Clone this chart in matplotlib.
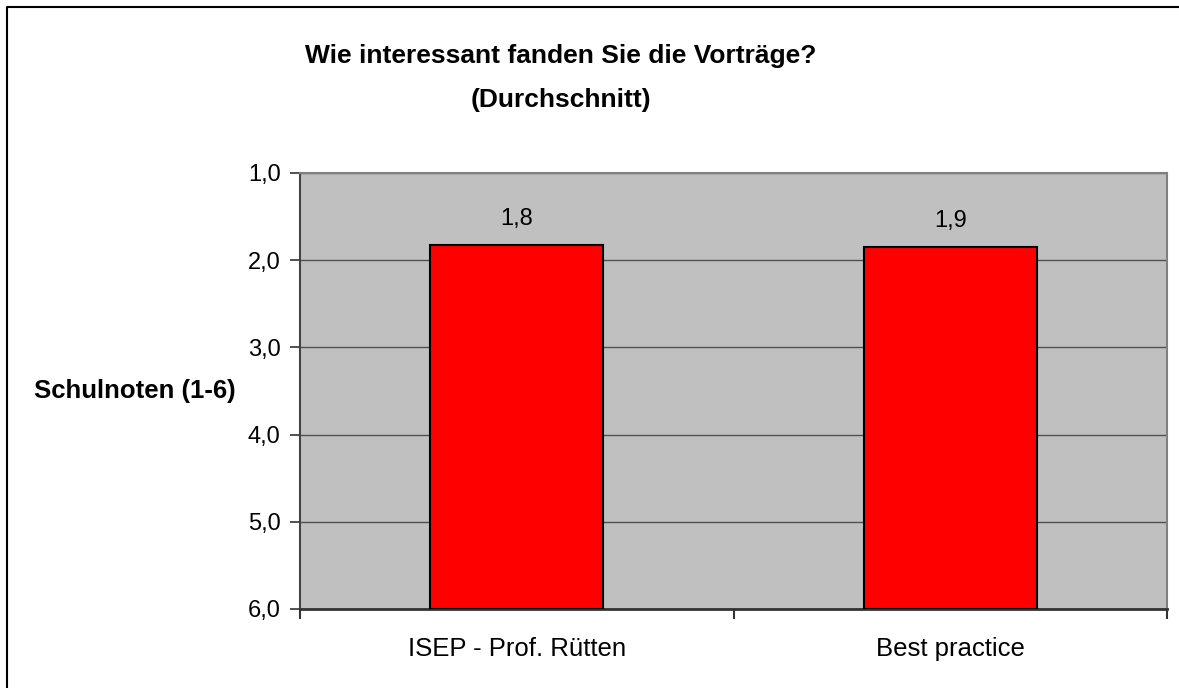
import matplotlib.pyplot as plt
from matplotlib.lines import Line2D

kategorien = ['ISEP - Prof. Rütten', 'Best practice']
noten = [1.83, 1.85]
y_ticks = [1, 2, 3, 4, 5, 6]

plt.rcParams['font.family'] = ['Liberation Sans', 'DejaVu Sans']

fig = plt.figure(figsize=(11.79, 6.88), dpi=100)
ax = fig.add_axes([300/1179, 1-609/688, 867/1179, 436/688])
ax.set_facecolor('#C0C0C0')

x = list(range(len(kategorien)))
bars = ax.bar(x, [n - 6 for n in noten], bottom=6, width=0.4,
              color='#FF0000', edgecolor='black', linewidth=1.5, zorder=3)
for xi, n in zip(x, noten):
    ax.text(xi, n - 0.23, f'{n:.1f}'.replace('.', ','), ha='center', va='baseline',
            fontsize=17, color='black')

ax.set_ylim(6, 1)
ax.set_xlim(-0.5, len(kategorien) - 0.5)
ax.set_yticks(y_ticks)
ax.set_yticklabels([f'{t:.1f}'.replace('.', ',') for t in y_ticks], fontsize=17)
ax.yaxis.grid(True, color='#505050', linewidth=1, zorder=1)
ax.set_axisbelow(True)

# x ticks at the category edges, labels in the middle
ax.set_xticks([i - 0.5 for i in range(len(kategorien) + 1)])
ax.set_xticklabels([])
ax.set_xticks(x, minor=True)
ax.set_xticklabels(kategorien, minor=True, fontsize=18.5)
ax.tick_params(axis='x', which='minor', length=0, pad=20)
ax.tick_params(axis='x', which='major', length=7, width=1.5, color='#333333')
ax.tick_params(axis='y', length=7, width=1.2, color='#333333', pad=7)

ax.spines['left'].set_color('#444444')
ax.spines['left'].set_linewidth(1.5)
ax.spines['bottom'].set_color('#333333')
ax.spines['bottom'].set_linewidth(2)
ax.spines['top'].set_color('#808080')
ax.spines['top'].set_linewidth(1.5)
ax.spines['right'].set_color('#808080')
ax.spines['right'].set_linewidth(1.5)

fig.text(135/1179, 0.5*(1-609/688) + 0.5*(1-173/688), 'Schulnoten (1-6)',
         ha='center', va='center', fontsize=18.5, fontweight='bold')

fig.text(561/1179, 1-63/688, 'Wie interessant fanden Sie die Vorträge?',
         ha='center', va='baseline', fontsize=19, fontweight='bold')
fig.text(561/1179, 1-107/688, '(Durchschnitt)',
         ha='center', va='baseline', fontsize=19, fontweight='bold')

# Rahmen oben und links
fig.add_artist(Line2D([7/1179, 7/1179, 1], [0, 1-7/688, 1-7/688],
                      transform=fig.transFigure, color='black', linewidth=1.5))

fig.savefig('out.png', dpi=100)
